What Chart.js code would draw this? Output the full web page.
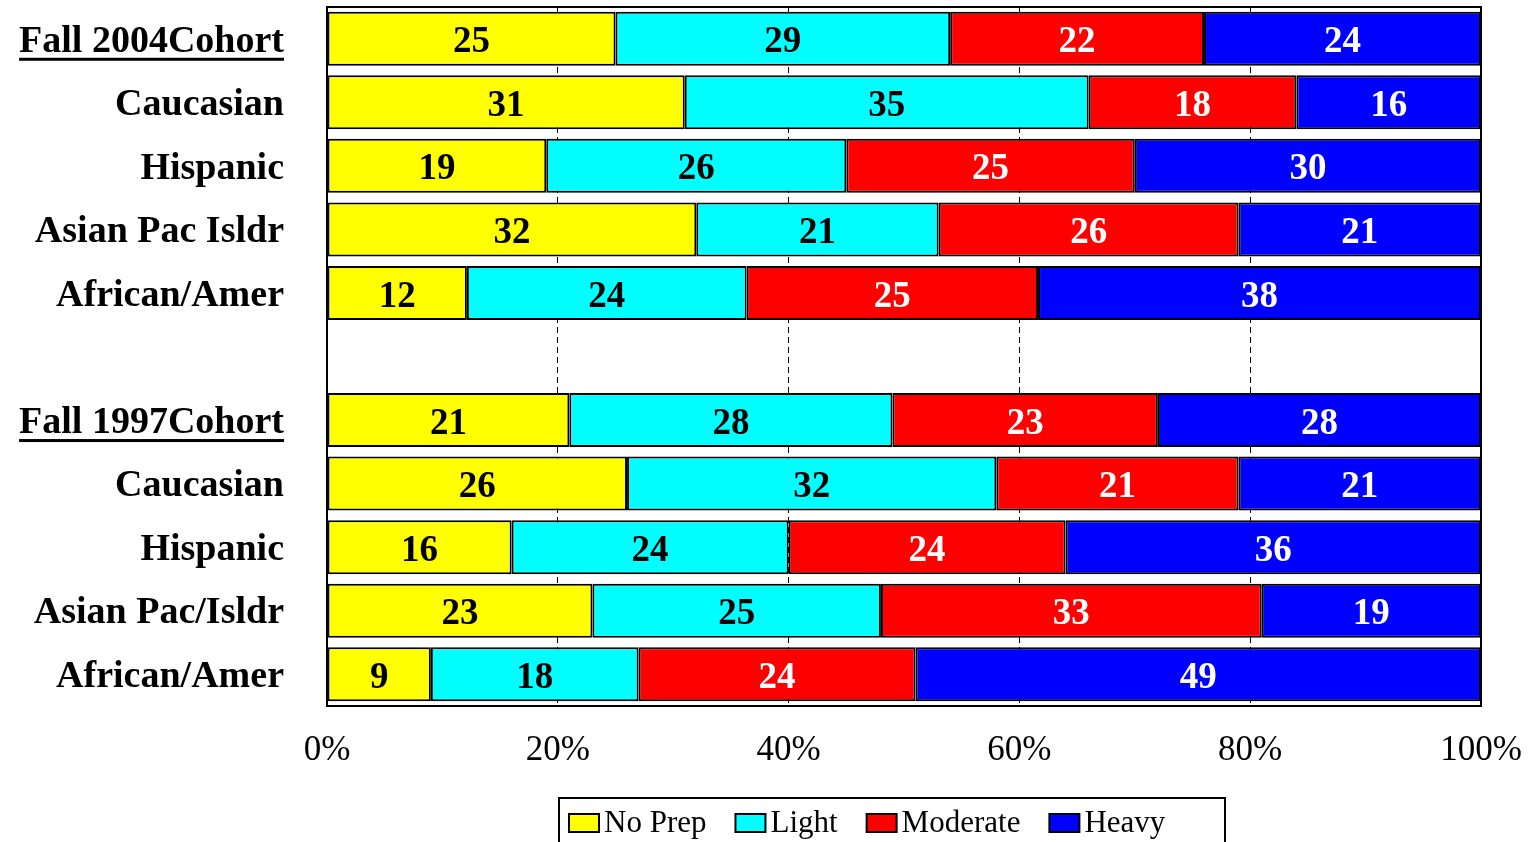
<!DOCTYPE html>
<html>
<head>
<meta charset="utf-8">
<script src="https://cdn.jsdelivr.net/npm/chart.js@4/dist/chart.umd.min.js"></script>
<style>
html,body{margin:0;padding:0;background:#fff;}
canvas{display:block;}
</style>
</head>
<body>
<canvas id="c" width="1528" height="842"></canvas>
<script>
const categories = ['Fall 2004Cohort','Caucasian','Hispanic','Asian Pac Isldr','African/Amer','','Fall 1997Cohort','Caucasian','Hispanic','Asian Pac/Isldr','African/Amer'];
const cohortRows = [0, 6];
const seriesNames = ['No Prep','Light','Moderate','Heavy'];
const noPrep   = [25,31,19,32,12,null,21,26,16,23,9];
const light    = [29,35,26,21,24,null,28,32,24,25,18];
const moderate = [22,18,25,26,25,null,23,21,24,33,24];
const heavy    = [24,16,30,21,38,null,28,21,36,19,49];
const xTicks = [0,20,40,60,80,100];

const colors = ['#FFFF00','#00FFFF','#FF0000','#0000FF'];
const labelColors = ['#000','#000','#fff','#fff'];
const FONT = '"Liberation Serif", "Times New Roman", serif';

const raw = [noPrep, light, moderate, heavy];
const totals = categories.map((_, i) => raw.reduce((s, arr) => s + (arr[i] || 0), 0));
const pct = raw.map(arr => arr.map((v, i) => v == null ? null : v / totals[i] * 100));

const datasets = raw.map((arr, k) => ({
  label: seriesNames[k],
  data: pct[k],
  rawValues: arr,
  backgroundColor: colors[k],
  borderColor: '#000',
  borderWidth: 2,
  borderSkipped: false,
  categoryPercentage: 1,
  barPercentage: 0.85
}));

const framePlugin = {
  id: 'frame',
  beforeDatasetsDraw(chart) {
    const {ctx, chartArea: a} = chart;
    ctx.save();
    ctx.strokeStyle = '#000';
    ctx.lineWidth = 2;
    ctx.strokeRect(a.left, a.top, a.right - a.left, a.bottom - a.top);
    ctx.restore();
  },
  afterDatasetsDraw(chart) {
    const ctx = chart.ctx;
    ctx.save();
    ctx.font = 'bold 37px ' + FONT;
    ctx.textAlign = 'center';
    ctx.textBaseline = 'middle';
    chart.data.datasets.forEach((ds, k) => {
      const meta = chart.getDatasetMeta(k);
      meta.data.forEach((el, i) => {
        const v = ds.rawValues[i];
        if (v == null) return;
        ctx.fillStyle = labelColors[k];
        ctx.fillText(String(v), (el.x + el.base) / 2, el.y + 4);
      });
    });
    ctx.restore();
  },
  afterDraw(chart) {
    const ctx = chart.ctx;
    const ys = chart.scales.y;
    ctx.save();
    ctx.font = 'bold 38px ' + FONT;
    cohortRows.forEach(i => {
      const w = ctx.measureText(categories[i]).width;
      const right = ys.right - ys.options.ticks.padding;
      const y = ys.getPixelForValue(i) + 19;
      ctx.fillStyle = '#000';
      ctx.fillRect(right - w, y, w, 3);
    });
    const boxL = 559, boxT = 798, boxW = 666;
    ctx.strokeStyle = '#000';
    ctx.lineWidth = 2;
    ctx.strokeRect(boxL, boxT, boxW, 80);
    ctx.font = '31px ' + FONT;
    ctx.textBaseline = 'middle';
    ctx.textAlign = 'left';
    let x = 569;
    const cy = 823;
    chart.data.datasets.forEach((ds, k) => {
      ctx.fillStyle = ds.backgroundColor;
      ctx.fillRect(x, cy - 9, 30, 18);
      ctx.strokeRect(x, cy - 9, 30, 18);
      ctx.fillStyle = '#000';
      ctx.fillText(ds.label, x + 35, cy + 1);
      x += 35 + ctx.measureText(ds.label).width + 29;
    });
    ctx.restore();
  }
};

new Chart(document.getElementById('c'), {
  type: 'bar',
  data: { labels: categories, datasets },
  plugins: [framePlugin],
  options: {
    indexAxis: 'y',
    responsive: false,
    animation: false,
    devicePixelRatio: 1,
    layout: { padding: { top: 7, right: 47, left: 0, bottom: 0 } },
    plugins: { legend: { display: false }, tooltip: { enabled: false } },
    scales: {
      x: {
        stacked: true,
        min: 0, max: 100,
        afterBuildTicks(s) { s.ticks = xTicks.map(v => ({ value: v })); },
        afterFit(s) { s.height = 136; s.paddingLeft = 0; s.paddingRight = 0; },
        ticks: {
          padding: 24,
          color: '#000',
          font: { family: FONT, size: 35 },
          callback: v => v + '%'
        },
        grid: {
          drawTicks: false,
          color: c => (c.tick && (c.tick.value === 0 || c.tick.value === 100)) ? 'rgba(0,0,0,0)' : '#000',
          lineWidth: 1
        },
        border: { display: false, dash: [6, 4] }
      },
      y: {
        stacked: true,
        afterFit(s) { s.width = 327; s.paddingTop = 0; s.paddingBottom = 0; },
        ticks: {
          padding: 43,
          labelOffset: 3,
          color: '#000',
          font: { family: FONT, size: 38, weight: 'bold' }
        },
        grid: { display: false, drawTicks: false },
        border: { display: false }
      }
    }
  }
});
</script>
</body>
</html>
